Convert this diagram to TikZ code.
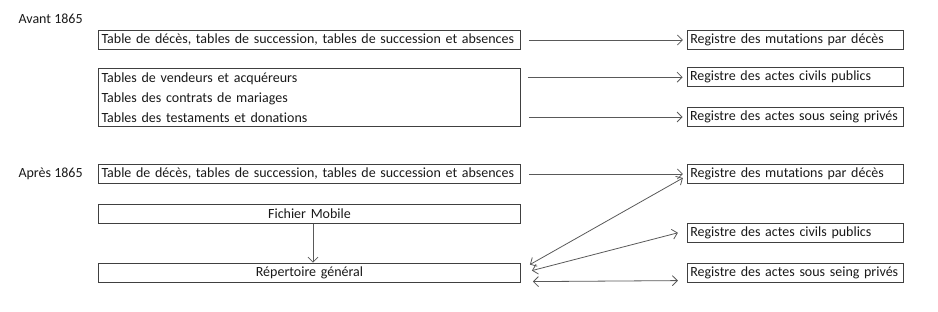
\documentclass[tikz,border=0pt]{standalone}
\usepackage{fontspec}
\setmainfont{Carlito}[Ligatures=NoCommon]
\usetikzlibrary{arrows.meta,positioning}

\begin{document}
\begin{tikzpicture}[x=1pt, y=-1pt, node distance=20pt,
    every node/.style={font=\fontsize{14}{20}\selectfont, text=black!90},
    tabbox/.style={draw=black!75, line width=0.8pt, minimum width=422pt, minimum height=19pt, inner sep=0pt, inner xsep=3pt, text width=416pt, align=left},
    regbox/.style={draw=black!75, line width=0.8pt, minimum width=216pt, minimum height=19pt, inner sep=0pt, inner xsep=3pt, text width=210pt, align=left},
    conn/.style={draw=black!65, line width=0.8pt, -{Straight Barb[length=5pt,width=10pt]}},
    dconn/.style={draw=black!65, line width=0.8pt, {Straight Barb[length=5pt,width=10pt]}-{Straight Barb[length=5pt,width=10pt]}}]
    \useasboundingbox (0,0) rectangle (938,312);
    % avant 1865
    \node (avant) [anchor=west] at (15,19) {Avant 1865};
    \node (avDeces) [tabbox] at (309.5,40) {Table de décès, tables de succession, tables de succession et absences};
    \node (avTables) [tabbox, minimum height=58pt] at (309.5,97.5) {Tables de vendeurs et acquéreurs\\Tables des contrats de mariages\\Tables des testaments et donations};
    \node (avMut) [regbox, right=166pt of avDeces] {Registre des mutations par décès};
    \node (avPriv) [regbox] at (795,117) {Registre des actes sous seing privés};
    \node (avCiv) [regbox, above=of avPriv] {Registre des actes civils publics};
    \draw[conn, shorten <=8pt, shorten >=4pt] (avDeces.east) -- (avMut.west);
    \draw[conn, shorten <=7pt, shorten >=4pt] (avTables.east |- avCiv.west) -- (avCiv.west);
    \draw[conn, shorten <=8pt, shorten >=4pt] (avTables.east |- avPriv.west) -- (avPriv.west);
    % apres 1865
    \node (apres) [anchor=west] at (15,174) {Après 1865};
    \node (apDeces) [tabbox] at (309.5,174) {Table de décès, tables de succession, tables de succession et absences};
    \node (apFich) [tabbox, align=center, below=of apDeces] {Fichier Mobile};
    \node (apRep) [tabbox, align=center, below=39pt of apFich] {Répertoire général};
    \node (apMut) [regbox, right=166pt of apDeces] {Registre des mutations par décès};
    \node (apPriv) [regbox, right=166pt of apRep] {Registre des actes sous seing privés};
    \node (apCiv) [regbox, above=of apPriv] {Registre des actes civils publics};
    \draw[conn, shorten <=8pt, shorten >=4pt] (apDeces.east) -- (apMut.west);
    \draw[conn] ([xshift=3.5pt]apFich.south) -- ([xshift=3.5pt]apRep.north);
    \draw[dconn] ([xshift=9pt, yshift=8pt]apRep.east) -- ([xshift=-4pt, yshift=-4pt]apMut.west);
    \draw[dconn] ([xshift=11pt, yshift=2pt]apRep.east) -- ([xshift=-9pt]apCiv.west);
    \draw[dconn] ([xshift=12pt, yshift=-9pt]apRep.east) -- ([xshift=-9pt, yshift=-8pt]apPriv.west);
\end{tikzpicture}
\end{document}
